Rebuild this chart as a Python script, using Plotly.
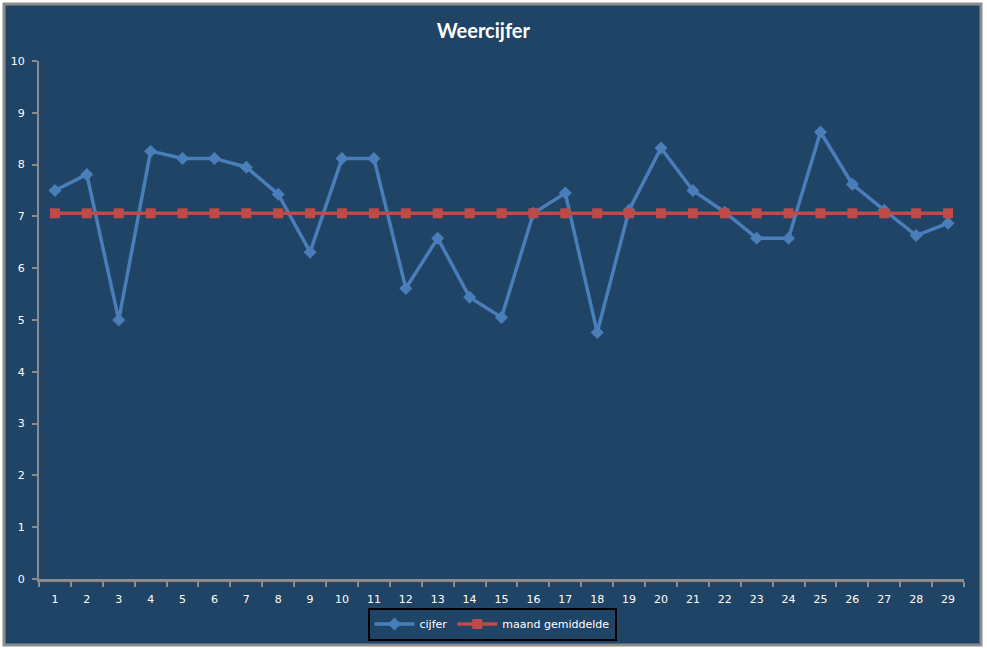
import plotly.graph_objects as go

days = [str(i) for i in range(1, 30)]
cijfer = [7.50, 7.81, 5.00, 8.26, 8.12, 8.12, 7.95, 7.43, 6.31, 8.12,
          8.12, 5.61, 6.58, 5.44, 5.05, 7.06, 7.45, 4.76, 7.12, 8.32,
          7.50, 7.08, 6.58, 6.58, 8.63, 7.62, 7.12, 6.63, 6.87]
gemiddelde = [7.06] * 29

BG = "#1F4466"
W, H = 987, 648
L, R, T, B = 39, 23, 61, 69
pw, ph = W - L - R, H - T - B

def px(x):
    return (x - L) / pw

def py(y):
    return (H - B - y) / ph

fig = go.Figure()
fig.add_trace(go.Scatter(x=days, y=cijfer, name="cijfer", mode="lines+markers",
                         line=dict(color="#4A7EBB", width=3.5),
                         marker=dict(symbol="diamond", size=10, color="#4A7EBB")))
fig.add_trace(go.Scatter(x=days, y=gemiddelde, name="maand gemiddelde", mode="lines+markers",
                         line=dict(color="#BE4B48", width=3.5),
                         marker=dict(symbol="square", size=10, color="#BE4B48")))

fig.add_shape(type="rect", xref="paper", yref="paper",
              x0=px(4), x1=px(981), y0=py(645), y1=py(4),
              fillcolor=BG, line=dict(color="#8C8C8C", width=3), layer="below")

fig.update_layout(
    width=W, height=H,
    margin=dict(l=L, r=R, t=T, b=B, autoexpand=False),
    paper_bgcolor="white",
    plot_bgcolor="rgba(0,0,0,0)",
    title=dict(text="<b>Weercijfer</b>", x=px(492), xanchor="center",
               y=1 - 31 / H, yanchor="middle",
               font=dict(family="Lato", size=20, color="white")),
    font=dict(family="DejaVu Sans", size=11, color="white"),
    showlegend=True,
    legend=dict(orientation="h", x=px(492), xanchor="center", y=py(624), yanchor="middle",
                bgcolor=BG, bordercolor="black", borderwidth=2,
                font=dict(family="DejaVu Sans", size=11, color="white"),
                itemwidth=40, tracegroupgap=0),
    xaxis=dict(type="category", showgrid=False, zeroline=False, automargin=False,
               showline=True, linecolor="#8C8C8C", linewidth=3,
               ticks="outside", tickson="boundaries", ticklen=5, tickcolor="#8C8C8C", tickwidth=2,
               ticklabelstandoff=8,
               tickfont=dict(color="white", size=11), range=[-0.5, 28.5]),
    yaxis=dict(range=[0, 10], dtick=1, showgrid=False, zeroline=False, automargin=False,
               showline=True, linecolor="#8C8C8C", linewidth=2,
               ticks="outside", ticklen=5, tickcolor="#8C8C8C", tickwidth=2,
               ticklabelstandoff=5,
               tickfont=dict(color="white", size=11)),
)

fig.write_html("out.html")
